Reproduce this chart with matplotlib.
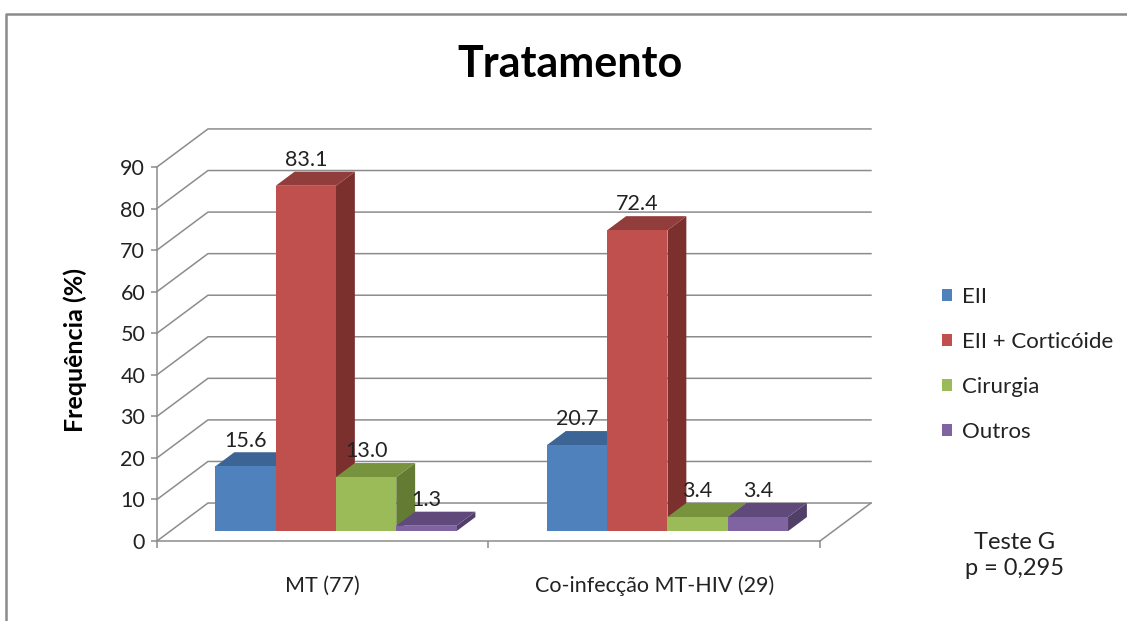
import numpy as np
import matplotlib.pyplot as plt
from matplotlib.patches import Polygon, Patch
from matplotlib.lines import Line2D

# data
categories = ["MT (77)", "Co-infecção MT-HIV (29)"]
series = ["EII", "EII + Corticóide", "Cirurgia", "Outros"]
values = {
    "EII": [15.6, 20.7],
    "EII + Corticóide": [83.1, 72.4],
    "Cirurgia": [13.0, 3.4],
    "Outros": [1.3, 3.4],
}
yticks = [0, 10, 20, 30, 40, 50, 60, 70, 80, 90]

# colours: front, top, side
colors = {
    "EII": ("#4f81bd", "#3c6596", "#385d8a"),
    "EII + Corticóide": ("#c0504d", "#903d3b", "#7b302e"),
    "Cirurgia": ("#9bbb59", "#77933d", "#637b33"),
    "Outros": ("#8064a2", "#604a7b", "#523f68"),
}

plt.rcParams['font.family'] = ['Lato', 'DejaVu Sans']

fig = plt.figure(figsize=(11.27, 6.21), dpi=100)
ax = fig.add_axes([0.1393, 0.1288, 0.6471, 0.6693])
ax.set_xlim(0, 2.2)
ax.set_ylim(0, 100)

# oblique depth offsets (data units)
dx, dy = 0.1538, 9.14
f0, f1 = 0.26, 0.63
grid_c = "#8c8c8c"
txt_c = "#222222"
fs = 15.5

# back wall + side wall gridlines
for v in yticks:
    ax.plot([0, dx, len(categories) + dx], [v, v + dy, v + dy],
            color=grid_c, lw=1.1, clip_on=False, zorder=1)
# floor right edge
ax.plot([len(categories), len(categories) + dx], [0, dy],
        color=grid_c, lw=1.1, clip_on=False, zorder=1)

# bars
n = len(series)
w = 1.0 / (n + 1.5)
margin = (1 - n * w) / 2
for i, cat in enumerate(categories):
    for j, s in enumerate(series):
        v = values[s][i]
        front, top, side = colors[s]
        x0 = i + margin + j * w
        xa, xb = x0 + f0 * dx, x0 + w + f0 * dx
        xc, xd = x0 + f1 * dx, x0 + w + f1 * dx
        ya, yb = f0 * dy, f1 * dy
        z = 2 + j * 0.1
        ax.add_patch(Polygon([(xb, ya), (xd, yb), (xd, v + yb), (xb, v + ya)],
                             closed=True, fc=side, ec='none', zorder=z))
        ax.add_patch(Polygon([(xa, v + ya), (xb, v + ya), (xd, v + yb), (xc, v + yb)],
                             closed=True, fc=top, ec='none', zorder=z))
        ax.add_patch(Polygon([(xa, ya), (xb, ya), (xb, v + ya), (xa, v + ya)],
                             closed=True, fc=front, ec='none', zorder=z + 0.05))
        ax.text((xa + xb) / 2, v + yb + 0.4, f"{v:.1f}", ha='center', va='bottom',
                fontsize=fs, color=txt_c, zorder=5)

# axes styling
for sp in ['top', 'right']:
    ax.spines[sp].set_visible(False)
ax.spines['left'].set_bounds(0, 90)
ax.spines['bottom'].set_bounds(0, len(categories))
for sp in ['left', 'bottom']:
    ax.spines[sp].set_color(grid_c)
    ax.spines[sp].set_linewidth(1.1)
    ax.spines[sp].set_zorder(3)
ax.set_yticks(yticks)
ax.tick_params(axis='y', direction='out', length=4.5, width=1.1, color=grid_c,
               labelsize=fs, pad=4, labelcolor=txt_c)
ax.set_xticks(range(len(categories) + 1))
ax.set_xticklabels([])
ax.set_xticks([i + 0.5 for i in range(len(categories))], minor=True)
ax.set_xticklabels(categories, minor=True)
ax.tick_params(axis='x', which='major', direction='out', length=5, width=1.1, color=grid_c)
ax.tick_params(axis='x', which='minor', length=0, labelsize=fs, pad=25, labelcolor=txt_c)
ax.set_ylabel("Frequência (%)", fontsize=18, fontweight='bold', labelpad=24)
ax.yaxis.label.set_y(0.46)

fig.text(0.506, 0.897, "Tratamento", ha='center', va='center', fontsize=31, fontweight='bold')

handles = [Patch(facecolor=colors[s][0], edgecolor='none') for s in series]
fig.legend(handles, series, loc='upper left', bbox_to_anchor=(0.818, 0.57), frameon=False,
           fontsize=16, handlelength=0.45, handleheight=0.45, handletextpad=0.45,
           labelspacing=1.12, labelcolor=txt_c)

fig.text(0.9, 0.106, "Teste G\np = 0,295", ha='center', va='center', fontsize=17,
         linespacing=1.3, color=txt_c)

# outer frame
fig.add_artist(Line2D([0.0053, 0.0053, 1.0], [0.0, 0.977, 0.977], color='#8a8a8a', lw=1.8))

fig.savefig("out.png", dpi=100)
